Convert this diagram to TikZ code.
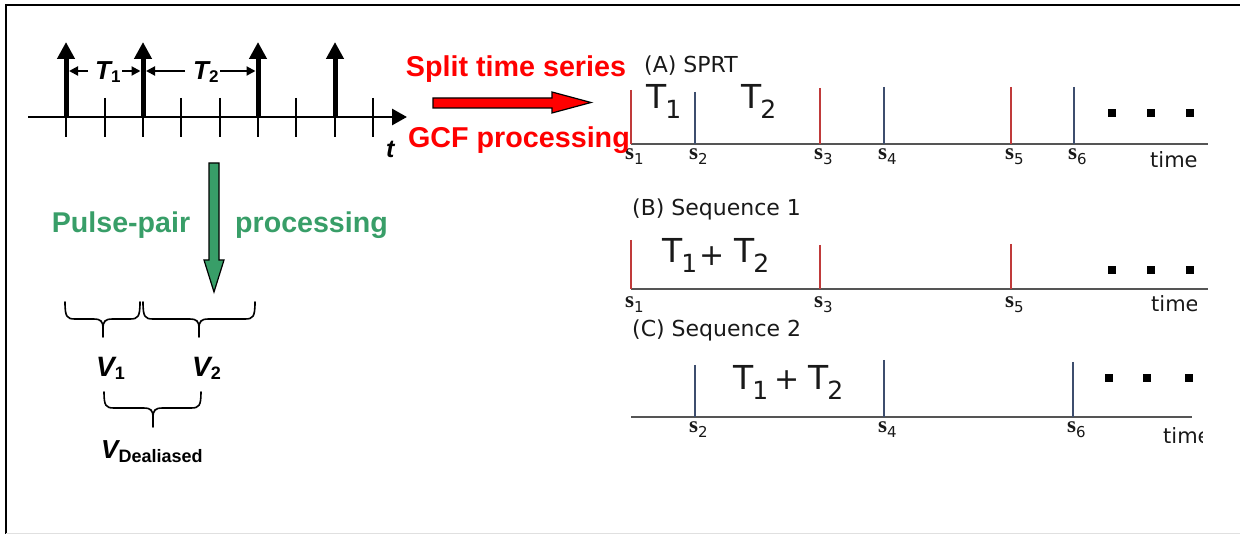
\documentclass[tikz,border=0pt]{standalone}
\usepackage{fontspec}
\setmainfont{Liberation Sans}
\newfontfamily\dvfont{DejaVu Sans}
\newfontfamily\serfont{Liberation Serif}
\usetikzlibrary{arrows.meta}

\definecolor{ppgreen}{RGB}{56,158,104}
\definecolor{sred}{RGB}{192,58,58}
\definecolor{sblue}{RGB}{62,78,110}
\definecolor{axgray}{RGB}{85,85,85}
\definecolor{txtgray}{RGB}{25,25,25}

\newcommand{\myfs}[1]{\fontsize{#1pt}{#1pt}\selectfont}
\newcommand{\bigT}[1]{{\dvfont\myfs{33}T\kern-1pt\raisebox{-10pt}{\myfs{25}#1}}}
\newcommand{\slab}[1]{{\serfont\bfseries\myfs{23}s}\raisebox{-5pt}{\dvfont\myfs{15}#1}}

\tikzset{
  frameline/.style={line width=2.2pt, black},
  taxis/.style={line width=2.8pt, -{Triangle[length=15pt,width=16pt]}},
  tick/.style={line width=1.8pt},
  pulse/.style={line width=5pt, -{Triangle[length=17pt,width=17pt]}},
  tarrow/.style={line width=2pt, -{Triangle[length=9pt,width=9pt]}},
  lbl/.style={inner sep=0pt, anchor=base west},
  bigarrow/.style={draw=black, line width=1.2pt},
  bracestyle/.style={line width=1.6pt, line cap=round},
  axisline/.style={draw=axgray, line width=1.4pt},
  redtick/.style={draw=sred, line width=1.1pt},
  bluetick/.style={draw=sblue, line width=1.1pt},
  paneltxt/.style={inner sep=0pt, anchor=base west, text=txtgray},
  dotsq/.style={fill=black, minimum size=8pt, inner sep=0pt},
}

\begin{document}
\begin{tikzpicture}[x=1pt,y=-1pt]
\useasboundingbox (0,0) rectangle (1240,534);

% frame
\draw[frameline] (6,534) -- (6,5) -- (1240,5);
\draw[black!12, line width=1pt] (6,533) -- (1240,533);

% ---------- left time series ----------
\coordinate (axS) at (28,117);
\coordinate (axE) at (407,117);
\draw[taxis] (axS) -- (axE);
\foreach \x in {66,105,143,181,220,258,296,335,373}
  \draw[tick] (\x,98) -- (\x,137);
\foreach \x in {66,143,258,335}
  \draw[pulse] (\x,117) -- (\x,42);

\coordinate (a1s) at (88,71);  \coordinate (a1e) at (69,71);
\coordinate (a2s) at (122,71); \coordinate (a2e) at (140.5,71);
\coordinate (a3s) at (185,71); \coordinate (a3e) at (146,71);
\coordinate (a4s) at (220,71); \coordinate (a4e) at (255.5,71);
\draw[tarrow] (a1s) -- (a1e);
\draw[tarrow] (a2s) -- (a2e);
\draw[tarrow] (a3s) -- (a3e);
\draw[tarrow] (a4s) -- (a4e);
\node[lbl] (T1l) at (95,80) {{\myfs{26}\bfseries\itshape T}\raisebox{-3pt}{\myfs{17}\bfseries 1}};
\node[lbl] (T2l) at (193,80) {{\myfs{26}\bfseries\itshape T}\raisebox{-3pt}{\myfs{17}\bfseries 2}};
\node[lbl] (tl) at (386,158) {\myfs{25}\bfseries\itshape t};

% green arrow
\filldraw[bigarrow, fill=ppgreen] (209,163) -- (219,163) -- (219,260) -- (224,260)
   -- (214,292) -- (204,260) -- (209,260) -- cycle;
\node[anchor=base, inner sep=0pt, text=ppgreen] (pp1) at (121,233) {\myfs{28.6}\bfseries Pulse-pair};
\node[anchor=base, inner sep=0pt, text=ppgreen] (pp2) at (311.5,233) {\myfs{28.6}\bfseries processing};

% braces
\draw[bracestyle] (65,302) .. controls (65,317) and (67,319) .. (75,319) -- (93,319)
   .. controls (101,319) and (103,321) .. (103,329) -- (103,337);
\draw[bracestyle] (140,302) .. controls (140,317) and (138,319) .. (130,319) -- (113,319)
   .. controls (105,319) and (103,321) .. (103,329);
\draw[bracestyle] (143,302) .. controls (143,317) and (145,319) .. (153,319) -- (189,319)
   .. controls (197,319) and (199,321) .. (199,329) -- (199,337);
\draw[bracestyle] (255,302) .. controls (255,317) and (253,319) .. (245,319) -- (209,319)
   .. controls (201,319) and (199,321) .. (199,329);
\draw[bracestyle] (104,392) .. controls (104,406) and (106,408) .. (114,408) -- (143,408)
   .. controls (151,408) and (153,410) .. (153,418) -- (153,427);
\draw[bracestyle] (201,392) .. controls (201,406) and (199,408) .. (191,408) -- (163,408)
   .. controls (155,408) and (153,410) .. (153,418);

\node[lbl] (V1) at (96,377) {{\myfs{28}\bfseries\itshape V}\raisebox{-3pt}{\myfs{18}\bfseries 1}};
\node[lbl] (V2) at (192,377) {{\myfs{28}\bfseries\itshape V}\raisebox{-3pt}{\myfs{18}\bfseries 2}};
\node[lbl] (VD) at (101,458) {{\myfs{26}\bfseries\itshape V}\raisebox{-4pt}{\myfs{18}\bfseries Dealiased}};

% ---------- right panels ----------
% Panel A
\draw[axisline] (631,144) -- (1208,144);
\draw[redtick]  (631,90) -- (631,144);
\draw[bluetick] (695,92) -- (695,144);
\draw[redtick]  (820,88) -- (820,144);
\draw[bluetick] (884,87) -- (884,144);
\draw[redtick]  (1011,87) -- (1011,144);
\draw[bluetick] (1074,87) -- (1074,144);
\node[paneltxt] (tA) at (644,73) {\dvfont\myfs{22}(A) SPRT};
\node[paneltxt] (A1) at (646,109) {\bigT{1}};
\node[paneltxt] (A2) at (741,109) {\bigT{2}};
\foreach \x/\n in {631/1,695/2,820/3,884/4,1011/5,1074/6}
  \node[paneltxt] at (\x-6,160) {\slab{\n}};
\foreach \x in {1112,1151,1190}
  \node[dotsq] at (\x,113) {};
\node[paneltxt] (timeA) at (1150,168) {\dvfont\myfs{21}time};

% Panel B
\draw[axisline] (631,289) -- (1208,289);
\draw[redtick] (631,240) -- (631,289);
\draw[redtick] (820,245) -- (820,289);
\draw[redtick] (1011,244) -- (1011,289);
\node[paneltxt] (tB) at (632,216) {\dvfont\myfs{22}(B) Sequence 1};
\node[paneltxt] (B1) at (662,263) {\bigT{1}};
\node[inner sep=0pt, text=txtgray] (Bp) at (712,256) {\dvfont\myfs{30}+};
\node[paneltxt] (B2) at (734,263) {\bigT{2}};
\foreach \x/\n in {631/1,820/3,1011/5}
  \node[paneltxt] at (\x-6,308) {\slab{\n}};
\foreach \x in {1112,1151,1190}
  \node[dotsq] at (\x,270) {};
\begin{scope}
  \clip (1140,280) rectangle (1196,320);
  \node[paneltxt] (timeB) at (1151,312) {\dvfont\myfs{21}time};
\end{scope}

% Panel C
\draw[axisline] (631,417) -- (1192,417);
\draw[bluetick] (695,365) -- (695,417);
\draw[bluetick] (884,360) -- (884,417);
\draw[bluetick] (1073,362) -- (1073,417);
\node[paneltxt] (tC) at (632,337) {\dvfont\myfs{22}(C) Sequence 2};
\node[paneltxt] (C1) at (733,390) {\bigT{1}};
\node[inner sep=0pt, text=txtgray] (Cp) at (787,380) {\dvfont\myfs{30}+};
\node[paneltxt] (C2) at (808,390) {\bigT{2}};
\foreach \x/\n in {695/2,884/4,1073/6}
  \node[paneltxt] at (\x-6,433) {\slab{\n}};
\foreach \x in {1109,1147,1189}
  \node[dotsq] at (\x,378) {};
\begin{scope}
  \clip (1150,420) rectangle (1202,460);
  \node[paneltxt] (timeC) at (1163,443) {\dvfont\myfs{21}time};
\end{scope}

% red arrow and labels (on top)
\filldraw[bigarrow, fill=red] (433,98) -- (552,98) -- (552,92) -- (591,102.5)
   -- (552,113) -- (552,108) -- (433,108) -- cycle;
\node[anchor=base, inner sep=0pt, text=red] (split) at (516,77) {\myfs{28.7}\bfseries Split time series};
\node[anchor=base, inner sep=0pt, text=red] (gcf) at (519,148) {\myfs{28.7}\bfseries GCF processing};
\end{tikzpicture}
\end{document}
